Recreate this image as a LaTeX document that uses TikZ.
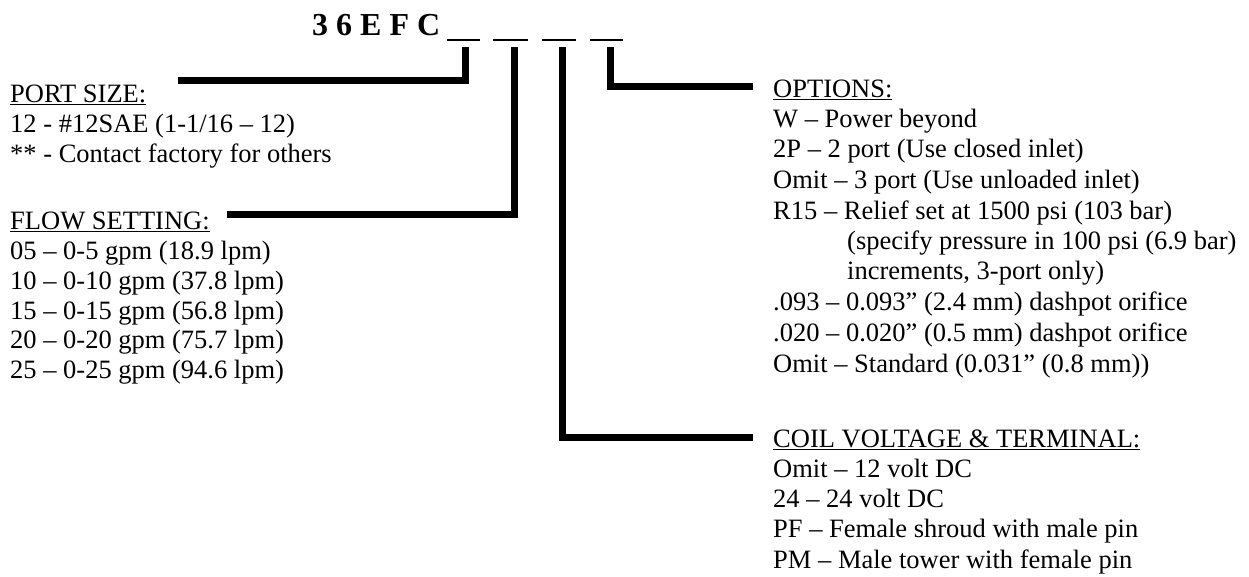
\documentclass[tikz,border=0pt]{standalone}
\usepackage{fontspec}
\setmainfont{Liberation Serif}
\newcommand\bodyfs{\fontsize{26.5pt}{30pt}\selectfont}
\newcommand\titlefs{\fontsize{32pt}{36pt}\selectfont\bfseries}
\tikzset{
  txt/.style={anchor=base west, inner sep=0pt, font=\bodyfs},
  bar/.style={line width=7pt, line join=miter, line cap=butt},
  uscore/.style={line width=2pt},
}
\begin{document}
\begin{tikzpicture}[x=1pt,y=-1pt]
\useasboundingbox[fill=white] (0,0) rectangle (1249,576);
% title
\node[txt, font=\titlefs] (title) at (312,35) {3 6 E F C};
% underscores
\draw[uscore] (447,40) -- (480,40);
\draw[uscore] (493,40) -- (528,40);
\draw[uscore] (542,40) -- (576,40);
\draw[uscore] (590,40) -- (623,40);
% left texts
\node[txt] (ps)  at (10,102) {\underline{PORT SIZE:}};
\node[txt] (ps1) at (10,132) {12 - \#12SAE (1-1/16 – 12)};
\node[txt] (ps2) at (10,162) {** - Contact factory for others};
\node[txt] (fs)  at (10,229) {\underline{FLOW SETTING:}};
\node[txt] (fs1) at (10,259) {05 – 0-5 gpm (18.9 lpm)};
\node[txt] (fs2) at (10,289) {10 – 0-10 gpm (37.8 lpm)};
\node[txt] (fs3) at (10,319) {15 – 0-15 gpm (56.8 lpm)};
\node[txt] (fs4) at (10,348) {20 – 0-20 gpm (75.7 lpm)};
\node[txt] (fs5) at (10,378) {25 – 0-25 gpm (94.6 lpm)};
% right texts
\node[txt] (op)  at (773,97)  {\underline{OPTIONS:}};
\node[txt] (op1) at (773,127) {W – Power beyond};
\node[txt] (op2) at (773,157) {2P – 2 port (Use closed inlet)};
\node[txt] (op3) at (773,188) {Omit – 3 port (Use unloaded inlet)};
\node[txt] (op4) at (773,219) {R15 – Relief set at 1500 psi (103 bar)};
\node[txt] (op5) at (847,249) {(specify pressure in 100 psi (6.9 bar)};
\node[txt] (op6) at (847,279) {increments, 3-port only)};
\node[txt] (op7) at (773,310) {.093 – 0.093” (2.4 mm) dashpot orifice};
\node[txt] (op8) at (773,341) {.020 – 0.020” (0.5 mm) dashpot orifice};
\node[txt] (op9) at (773,372) {Omit – Standard (0.031” (0.8 mm))};
\node[txt] (cv)  at (773,447) {\underline{COIL VOLTAGE \& TERMINAL:}};
\node[txt] (cv1) at (773,477) {Omit – 12 volt DC};
\node[txt] (cv2) at (773,507) {24 – 24 volt DC};
\node[txt] (cv3) at (773,537) {PF – Female shroud with male pin};
\node[txt] (cv4) at (773,568) {PM – Male tower with female pin};
% connectors
\coordinate (s1) at (465.5,47);
\coordinate (s2) at (514,47);
\coordinate (s3) at (562,47);
\coordinate (s4) at (610,47);
\coordinate (e1) at (178,80);
\coordinate (e2) at (227,214);
\coordinate (e3) at (753,437);
\coordinate (e4) at (753,86);
\draw[bar] (s1) |- (e1);
\draw[bar] (s2) |- (e2);
\draw[bar] (s3) |- (e3);
\draw[bar] (s4) |- (e4);
\end{tikzpicture}
\end{document}
